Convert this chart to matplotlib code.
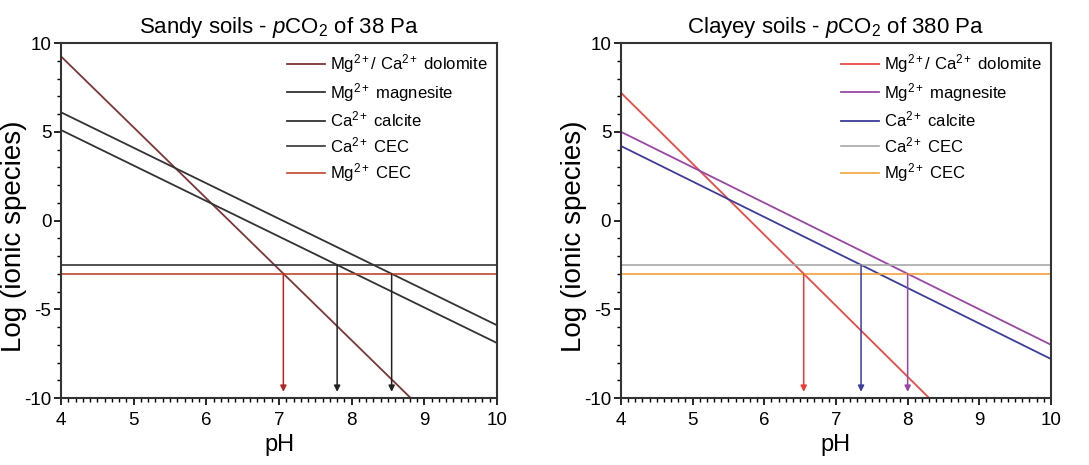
import numpy as np
import matplotlib.pyplot as plt
from matplotlib.ticker import MultipleLocator

plt.rcParams["font.family"] = ["Liberation Sans", "DejaVu Sans"]
plt.rcParams["mathtext.fontset"] = "custom"
plt.rcParams["mathtext.rm"] = "Liberation Sans"
plt.rcParams["mathtext.it"] = "Liberation Sans:italic"
plt.rcParams["axes.unicode_minus"] = False

# pH range shared by both panels
ph = np.array([4.0, 10.0])

labels = [
    r"Mg$^{2+}$/ Ca$^{2+}$ dolomite",
    r"Mg$^{2+}$ magnesite",
    r"Ca$^{2+}$ calcite",
    r"Ca$^{2+}$ CEC",
    r"Mg$^{2+}$ CEC",
]

# log activity = intercept + slope * pH
sandy_intercept = [25.25, 14.1, 13.1]
sandy_slope = [-4.0, -2.0, -2.0]
clayey_intercept = [23.2, 13.0, 12.2]
clayey_slope = [-4.0, -2.0, -2.0]

# exchange (CEC) levels
ca_cec = -2.5
mg_cec = -3.0

# pH where each solubility line meets its CEC level
sandy_arrows = [7.06, 7.80, 8.55]
clayey_arrows = [6.55, 7.35, 8.00]
sandy_arrow_levels = [mg_cec, ca_cec, mg_cec]
clayey_arrow_levels = [mg_cec, ca_cec, mg_cec]

sandy_colors = ["#7d3535", "#333333", "#333333", "#333333", "#c0482e"]
sandy_arrow_colors = ["#b52525", "#222222", "#222222"]
clayey_colors = ["#ec4a42", "#9b45a6", "#3d3d99", "#a8a8a8", "#f2a33a"]
clayey_arrow_colors = ["#ec3a35", "#3d3d99", "#9b45a6"]


def draw_panel(ax, title, intercepts, slopes, colors, arrows, levels, arrow_colors):
    for i in range(3):
        ax.plot(ph, intercepts[i] + slopes[i] * ph, color=colors[i], lw=1.3,
                label=labels[i])
    ax.axhline(ca_cec, color=colors[3], lw=1.2, label=labels[3])
    ax.axhline(mg_cec, color=colors[4], lw=1.2, label=labels[4])

    for x, y0, c in zip(arrows, levels, arrow_colors):
        ax.annotate("", xy=(x, -9.65), xytext=(x, y0),
                    arrowprops=dict(arrowstyle="-|>", color=c, lw=1.1,
                                    mutation_scale=9, shrinkA=0, shrinkB=0))

    ax.set_xlim(4, 10)
    ax.set_ylim(-10, 10)
    ax.xaxis.set_major_locator(MultipleLocator(1))
    ax.xaxis.set_minor_locator(MultipleLocator(0.1))
    ax.yaxis.set_major_locator(MultipleLocator(5))
    ax.yaxis.set_minor_locator(MultipleLocator(1))
    ax.tick_params(which="major", length=5, width=1.2, labelsize=13.5, pad=2)
    ax.tick_params(axis="x", which="major", pad=5)
    ax.tick_params(which="minor", length=3, width=1.0)
    for sp in ax.spines.values():
        sp.set_linewidth(1.5)
        sp.set_color("#333333")
    ax.set_xlabel("pH", fontsize=17, labelpad=4)
    ax.set_ylabel("Log (ionic species)", fontsize=20)
    ax.yaxis.set_label_coords(-0.078, 0.456)
    ax.set_title(title, fontsize=16, pad=7)
    ax.legend(loc="upper right", frameon=False, fontsize=12, handlelength=2.3,
              handletextpad=0.3, labelspacing=0.35, borderaxespad=0.15)


fig = plt.figure(figsize=(10.89, 4.65), dpi=100)
ax1 = fig.add_axes([0.056, 0.144, 0.4004, 0.7634])
ax2 = fig.add_axes([0.5702, 0.144, 0.3949, 0.7634])

draw_panel(ax1, r"Sandy soils - $\it{p}$CO$_2$ of 38 Pa", sandy_intercept,
           sandy_slope, sandy_colors, sandy_arrows, sandy_arrow_levels,
           sandy_arrow_colors)
draw_panel(ax2, r"Clayey soils - $\it{p}$CO$_2$ of 380 Pa", clayey_intercept,
           clayey_slope, clayey_colors, clayey_arrows, clayey_arrow_levels,
           clayey_arrow_colors)

fig.savefig("out.png", dpi=100)
